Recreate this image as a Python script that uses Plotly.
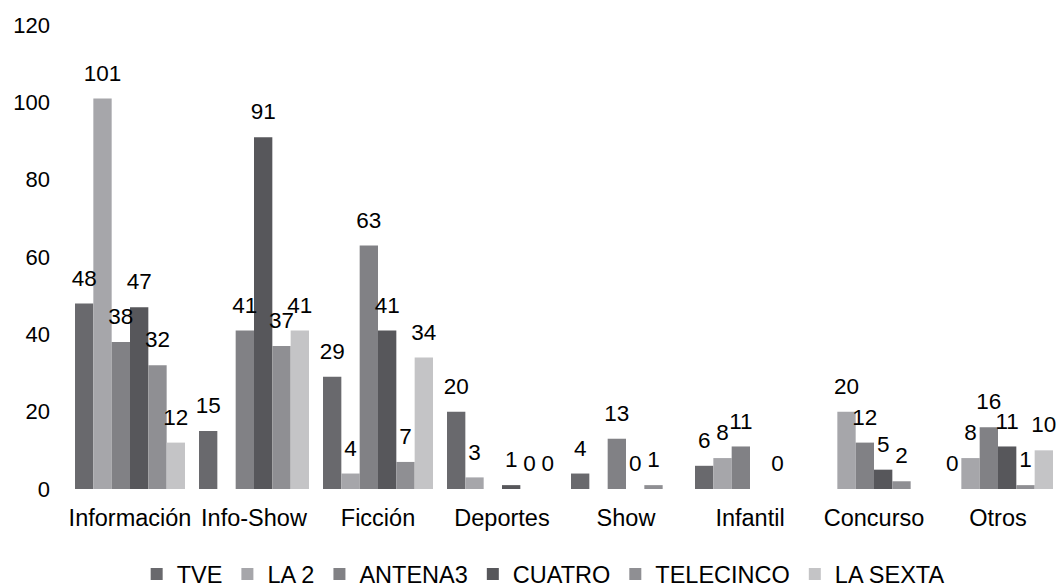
import plotly.graph_objects as go

# Programme genres (x categories) and channel series
categories = ["Información", "Info-Show", "Ficción", "Deportes",
              "Show", "Infantil", "Concurso", "Otros"]
channels = ["TVE", "LA 2", "ANTENA3", "CUATRO", "TELECINCO", "LA SEXTA"]

# Hours per genre for each channel (None = no entry for that genre)
tve       = [48, 15,   29, 20,   4,    6,    None, 0]
la2       = [101, None, 4,  3,   None, 8,    20,   8]
antena3   = [38, 41,   63, None, 13,   11,   12,   16]
cuatro    = [47, 91,   41, 1,    0,    None, 5,    11]
telecinco = [32, 37,   7,  0,    1,    0,    2,    1]
lasexta   = [12, 41,   34, 0,    None, None, None, 10]

series = [tve, la2, antena3, cuatro, telecinco, lasexta]
colors = ["#69696d", "#a6a6aa", "#818185", "#57575b", "#8f8f93", "#c4c4c6"]

y_ticks = [0, 20, 40, 60, 80, 100, 120]

FONT = "Liberation Sans, Arial, sans-serif"

fig = go.Figure()

for name, vals, col in zip(channels, series, colors):
    fig.add_trace(go.Bar(
        name=name, x=categories, y=vals,
        marker=dict(color=col, line=dict(width=0)),
    ))

# Value labels, grouped the same way as the bars
for name, vals in zip(channels, series):
    fig.add_trace(go.Scatter(
        x=categories, y=vals, mode="markers+text",
        text=[("" if v is None else str(v)) for v in vals],
        textposition="top center",
        textfont=dict(family=FONT, size=22.5, color="#000000"),
        marker=dict(size=18, color="rgba(0,0,0,0)"),
        showlegend=False, hoverinfo="skip", cliponaxis=False,
    ))

fig.update_layout(
    width=1060, height=587,
    margin=dict(l=68, r=0, t=25, b=98, autoexpand=False),
    paper_bgcolor="white", plot_bgcolor="white",
    barmode="group", bargap=0.113, bargroupgap=0,
    scattermode="group", scattergap=0.113,
    font=dict(family=FONT, size=22, color="#000000"),
    showlegend=True,
    legend=dict(
        orientation="h", x=0.479, xanchor="center",
        y=-0.136, yanchor="top",
        font=dict(family=FONT, size=23.5, color="#000000"),
        bgcolor="rgba(0,0,0,0)",
    ),
)

fig.update_xaxes(
    showline=False, showgrid=False, zeroline=False, ticks="",
    ticklabelstandoff=12, automargin=False,
    tickfont=dict(family=FONT, size=23.5, color="#000000"),
)
fig.update_yaxes(
    range=[0, 120], tickvals=y_ticks,
    showline=False, showgrid=False, zeroline=False, ticks="",
    ticklabelstandoff=17, automargin=False,
    tickfont=dict(family=FONT, size=22, color="#000000"),
)

fig.write_html("out.html")
